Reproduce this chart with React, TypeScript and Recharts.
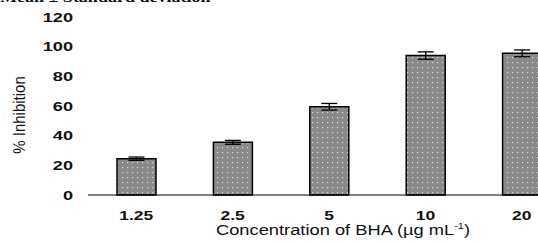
import { BarChart, Bar, XAxis, YAxis, ErrorBar, Label } from 'recharts';

const concentrations = ['1.25', '2.5', '5', '10', '20'];
const inhibition = [24.5, 35.5, 59.5, 94, 95.5];
const deviation = [1.1, 1.3, 2.2, 2.5, 2.3];
const yTicks = [0, 20, 40, 60, 80, 100, 120];

const chartData = concentrations.map((c, i) => ({ conc: c, value: inhibition[i], err: deviation[i] }));

const FONT = '"Liberation Sans", Arial, sans-serif';
// the scanned figure is stretched sideways, so text is widened a bit
const STRETCH = 1.4;

const YTick = (props: any) => {
  const { x, y, payload } = props;
  return (
    <text
      transform={`translate(${x},${y}) scale(${STRETCH},1)`}
      textAnchor="end"
      dy="0.36em"
      fill="#111"
      style={{ fontFamily: FONT, fontSize: 13, fontWeight: 'bold' }}
    >
      {payload.value}
    </text>
  );
};

const XTick = (props: any) => {
  const { x, y, payload } = props;
  return (
    <text
      transform={`translate(${x},${y}) scale(${STRETCH},1)`}
      textAnchor="middle"
      dy="0.71em"
      fill="#111"
      style={{ fontFamily: FONT, fontSize: 12.5, fontWeight: 'bold' }}
    >
      {payload.value}
    </text>
  );
};

export default function App() {
  return (
    <div style={{ position: 'fixed', left: 0, top: 0, width: 538, height: 243, overflow: 'hidden', background: '#fff' }}>
      <div
        style={{
          position: 'absolute',
          left: 0,
          top: -10,
          fontFamily: '"Liberation Serif", serif',
          fontWeight: 'bold',
          fontSize: 15,
          lineHeight: '15px',
          whiteSpace: 'nowrap',
          color: '#111',
          transform: 'scaleX(1.2)',
          transformOrigin: 'left top',
        }}
      >
        Mean ± Standard deviation
      </div>
      <div style={{ position: 'absolute', left: 0, top: 0 }}>
        <BarChart width={570} height={243} data={chartData} margin={{ top: 17, right: 0, bottom: 0, left: 0 }}>
          <defs>
            <pattern id="dots" width="5" height="5" patternUnits="userSpaceOnUse">
              <rect width="5" height="5" fill="#8a8a8a" />
              <rect x="2" y="2" width="1.2" height="1.2" fill="#d8d8d8" />
            </pattern>
          </defs>
          <YAxis
            width={88}
            domain={[0, 120]}
            ticks={yTicks}
            axisLine={false}
            tickLine={false}
            tickSize={0}
            tickMargin={15}
            tick={<YTick />}
          >
            <Label
              content={() => (
                <text
                  transform="translate(25,115) scale(1.15,1) rotate(-90)"
                  textAnchor="middle"
                  fill="#111"
                  style={{ fontFamily: FONT, fontSize: 15 }}
                >
                  % Inhibition
                </text>
              )}
            />
          </YAxis>
          <XAxis
            dataKey="conc"
            height={48}
            axisLine={{ stroke: '#000', strokeWidth: 1 }}
            tickLine={false}
            tickSize={0}
            tickMargin={16}
            tick={<XTick />}
          >
            <Label
              content={(props: any) => {
                const vb = props.viewBox || { x: 88, y: 195, width: 482 };
                const cx = vb.x + vb.width / 2 + 14;
                return (
                  <text
                    transform={`translate(${cx},${vb.y + 39.5}) scale(1.22,1)`}
                    textAnchor="middle"
                    fill="#111"
                    style={{ fontFamily: FONT, fontSize: 15 }}
                  >
                    Concentration of BHA (µg mL
                    <tspan fontSize={9} dy={-6}>-1</tspan>
                    <tspan dy={6}>)</tspan>
                  </text>
                );
              }}
            />
          </XAxis>
          <Bar dataKey="value" barSize={39} fill="url(#dots)" stroke="#000" strokeWidth={1.5} isAnimationActive={false}>
            <ErrorBar dataKey="err" width={8} stroke="#000" strokeWidth={1.3} />
          </Bar>
        </BarChart>
      </div>
    </div>
  );
}
